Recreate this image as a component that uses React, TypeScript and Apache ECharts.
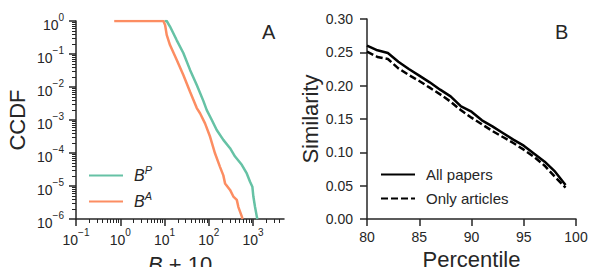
import React, { useEffect, useRef } from 'react';
import * as echarts from 'echarts';

// Panel A: CCDF of B + 10 (log-log)
const bpX = [10, 11.2, 13.3, 18.9, 26.6, 37.7, 53.5, 75.3, 89.9, 117, 151, 213, 302, 392, 556, 721, 855, 964, 1016, 1109, 1213, 1250];
const bpY = [1, 1, 0.68, 0.26, 0.107, 0.033, 0.0115, 0.0038, 0.002, 0.001, 5.0e-4, 2.5e-4, 1.4e-4, 7.8e-5, 4.4e-5, 2.4e-5, 1.35e-5, 9.5e-6, 4.8e-6, 2.3e-6, 1.2e-6, 1.0e-6];
const baX = [0.73, 9.4, 10.3, 11.2, 13.3, 18.9, 26.6, 37.7, 53.5, 63.4, 82.2, 107, 138, 179, 213, 233, 302, 359, 429, 466, 556, 579];
const baY = [1, 1, 0.76, 0.38, 0.186, 0.066, 0.023, 0.0072, 0.0023, 0.0016, 7.9e-4, 3.1e-4, 9.8e-5, 3.8e-5, 2.1e-5, 1.2e-5, 7.6e-6, 4.8e-6, 3.8e-6, 2.3e-6, 1.2e-6, 1.0e-6];
const aXExponents = [-1, 0, 1, 2, 3];
const aYExponents = [-6, -5, -4, -3, -2, -1, 0];
const aXMax = 5000;

// Panel B: similarity vs percentile
const percentiles = [80, 81, 82, 83, 84, 85, 86, 87, 88, 89, 90, 91, 92, 93, 94, 95, 96, 97, 98, 99];
const allPapers = [0.26, 0.253, 0.249, 0.236, 0.225, 0.215, 0.205, 0.194, 0.184, 0.169, 0.161, 0.148, 0.139, 0.129, 0.119, 0.11, 0.098, 0.086, 0.071, 0.051];
const onlyArticles = [0.251, 0.243, 0.24, 0.226, 0.216, 0.207, 0.197, 0.187, 0.176, 0.163, 0.152, 0.142, 0.132, 0.123, 0.114, 0.104, 0.093, 0.08, 0.063, 0.047];

const FONT = 'Liberation Sans, Arial, Helvetica, sans-serif';
const INK = '#262626';
const GREEN = '#66c2a5';
const ORANGE = '#fc8d62';

const minorValues = (lo: number, hi: number) => {
  const out: number[] = [];
  for (let d = Math.floor(lo); d < hi; d++) {
    for (let k = 2; k <= 9; k++) {
      const v = d + Math.log10(k);
      if (v > lo && v < hi) out.push(v);
    }
  }
  return out;
};

const powLabel = (v: number) => {
  const e = Math.round(v);
  return `{b|10}{s|${e < 0 ? '\u2212' : ''}${Math.abs(e)}}`;
};

const powRich = {
  b: { fontSize: 14, fontFamily: FONT, color: INK, lineHeight: 14, padding: [7, 0, 0, 0] },
  s: { fontSize: 10, fontFamily: FONT, color: INK, lineHeight: 10, padding: [0, 0, 8, 0] },
};

export default function App() {
  const ref = useRef<HTMLDivElement>(null);
  useEffect(() => {
    if (!ref.current) return;
    const chart = echarts.init(ref.current, null, { renderer: 'svg' });
    const xLo = Math.log10(0.1);
    const xHi = Math.log10(aXMax);
    const axisLine = { show: true, onZero: false, lineStyle: { color: INK, width: 1.5 } };
    const hiddenLine = { show: false, onZero: false };
    const majorTick = { show: true, length: 7, lineStyle: { color: INK, width: 1.5 } };
    const minorTick = { show: true, length: 4, lineStyle: { color: INK, width: 1 } };
    const nameStyle = { fontSize: 22, fontFamily: FONT, color: INK };
    const panelStyle = { fontSize: 20, fontWeight: 'normal', fontFamily: FONT, color: INK };

    chart.setOption({
      animation: false,
      backgroundColor: '#ffffff',
      textStyle: { fontFamily: FONT },
      title: [
        { text: 'A', left: 262, top: 22, padding: 0, textStyle: panelStyle },
        { text: 'B', left: 555, top: 22, padding: 0, textStyle: panelStyle },
      ],
      grid: [
        { left: 76, top: 21, width: 208, height: 198, outerBoundsMode: 'none' },
        { left: 367, top: 19, width: 209, height: 200, outerBoundsMode: 'none' },
      ],
      legend: [
        {
          data: ['BP', 'BA'], orient: 'vertical', left: 88, top: 164, padding: 0,
          itemWidth: 34, itemHeight: 14, itemGap: 3,
          itemStyle: { opacity: 0 },
          formatter: (n: string) => `{i|B}{s|${n.slice(1)}}`,
          textStyle: {
            rich: {
              i: { fontSize: 16, fontStyle: 'italic', fontFamily: FONT, color: INK, lineHeight: 16, padding: [0, 0, 0, 6] },
              s: { fontSize: 11, fontStyle: 'italic', fontFamily: FONT, color: INK, lineHeight: 8, padding: [0, 0, 12, 0] },
            },
          },
        },
        {
          data: ['All papers', 'Only articles'], orient: 'vertical', left: 380, top: 167, padding: 0,
          itemWidth: 34, itemHeight: 14, itemGap: 9,
          itemStyle: { opacity: 0 },
          textStyle: { fontSize: 15, fontFamily: FONT, color: INK, padding: [0, 0, 0, 6] },
        },
      ],
      xAxis: [
        {
          type: 'value', gridIndex: 0, min: xLo, max: xHi, position: 'bottom',
          name: '{i|B} + 10', nameLocation: 'middle', nameGap: 34,
          nameTextStyle: { ...nameStyle, rich: { i: { ...nameStyle, fontStyle: 'italic' } } },
          axisLine, axisTick: { ...majorTick, customValues: aXExponents },
          axisLabel: { customValues: aXExponents, margin: 10, formatter: powLabel, rich: powRich },
          splitLine: { show: false },
        },
        {
          type: 'value', gridIndex: 0, min: xLo, max: xHi, position: 'bottom',
          axisLine: hiddenLine, axisLabel: { show: false }, splitLine: { show: false },
          axisTick: { ...minorTick, customValues: minorValues(xLo, xHi) },
        },
        {
          type: 'value', gridIndex: 1, min: 80, max: 100, interval: 5, position: 'bottom',
          name: 'Percentile', nameLocation: 'middle', nameGap: 26, nameTextStyle: nameStyle,
          axisLine, axisTick: majorTick,
          axisLabel: { fontSize: 14, color: INK, fontFamily: FONT, margin: 11 },
          splitLine: { show: false },
        },
      ],
      yAxis: [
        {
          type: 'value', gridIndex: 0, min: -6, max: 0, position: 'left',
          name: 'CCDF', nameLocation: 'middle', nameGap: 48, nameTextStyle: nameStyle,
          axisLine, axisTick: { ...majorTick, customValues: aYExponents },
          axisLabel: { customValues: aYExponents, margin: 12, formatter: powLabel, rich: powRich },
          splitLine: { show: false },
        },
        {
          type: 'value', gridIndex: 0, min: -6, max: 0, position: 'left',
          axisLine: hiddenLine, axisLabel: { show: false }, splitLine: { show: false },
          axisTick: { ...minorTick, customValues: minorValues(-6, 0) },
        },
        {
          type: 'value', gridIndex: 1, min: 0, max: 0.3, interval: 0.05, position: 'left',
          name: 'Similarity', nameLocation: 'middle', nameGap: 45, nameTextStyle: nameStyle,
          axisLine, axisTick: majorTick,
          axisLabel: { fontSize: 14, color: INK, fontFamily: FONT, margin: 14, formatter: (v: number) => v.toFixed(2) },
          splitLine: { show: false },
        },
      ],
      series: [
        {
          name: 'BP', type: 'line', xAxisIndex: 0, yAxisIndex: 0, symbol: 'none',
          data: bpX.map((x, i) => [Math.log10(x), Math.log10(bpY[i])]),
          lineStyle: { color: GREEN, width: 2.5 }, itemStyle: { color: GREEN },
        },
        {
          name: 'BA', type: 'line', xAxisIndex: 0, yAxisIndex: 0, symbol: 'none',
          data: baX.map((x, i) => [Math.log10(x), Math.log10(baY[i])]),
          lineStyle: { color: ORANGE, width: 2.5 }, itemStyle: { color: ORANGE },
        },
        {
          name: 'All papers', type: 'line', xAxisIndex: 2, yAxisIndex: 2, symbol: 'none',
          data: percentiles.map((p, i) => [p, allPapers[i]]),
          lineStyle: { color: '#000000', width: 2.5 }, itemStyle: { color: '#000000' },
        },
        {
          name: 'Only articles', type: 'line', xAxisIndex: 2, yAxisIndex: 2, symbol: 'none',
          data: percentiles.map((p, i) => [p, onlyArticles[i]]),
          lineStyle: { color: '#000000', width: 2.5, type: [7, 3] }, itemStyle: { color: '#000000' },
        },
      ],
    });
    return () => chart.dispose();
  }, []);
  return <div ref={ref} style={{ position: 'fixed', left: 0, top: 0, width: 598, height: 267, background: '#fff' }} />;
}
